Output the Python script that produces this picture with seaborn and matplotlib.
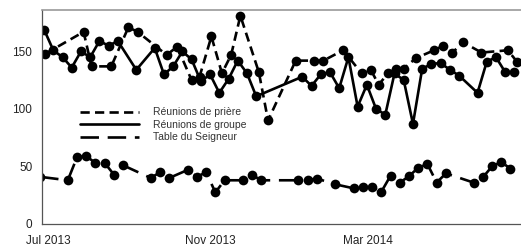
import pandas as pd
import matplotlib
matplotlib.use('Agg')
import matplotlib.pyplot as plt
import matplotlib.dates as mdates
from matplotlib.lines import Line2D
import seaborn as sns

# Réunions de prière (short dashes)
priere_dates = ['2013-06-29', '2013-07-28', '2013-08-03', '2013-08-18', '2013-08-31', '2013-09-07',
                '2013-09-29', '2013-10-07', '2013-10-18', '2013-10-24', '2013-11-02', '2013-11-10',
                '2013-11-17', '2013-11-24', '2013-12-08', '2013-12-15', '2014-01-05', '2014-01-19',
                '2014-01-26', '2014-02-10', '2014-02-24', '2014-03-03', '2014-03-09', '2014-03-16',
                '2014-03-22', '2014-03-28', '2014-04-06', '2014-04-20', '2014-04-27', '2014-05-04',
                '2014-05-12', '2014-05-26', '2014-06-15', '2014-06-22']
priere_vals = [148, 167, 137, 137, 171, 167,
               147, 154, 125, 128, 163, 131,
               147, 181, 132, 90, 142, 142,
               142, 151, 131, 134, 121, 131,
               135, 135, 144, 151, 155, 149,
               158, 149, 151, 141]

# Réunions de groupe (solid)
groupe_dates = ['2013-06-28', '2013-07-05', '2013-07-12', '2013-07-19', '2013-07-26', '2013-08-02',
                '2013-08-09', '2013-08-16', '2013-08-23', '2013-09-06', '2013-09-20', '2013-09-27',
                '2013-10-04', '2013-10-11', '2013-10-18', '2013-10-25', '2013-11-01', '2013-11-08',
                '2013-11-15', '2013-11-22', '2013-11-29', '2013-12-06', '2014-01-10', '2014-01-17',
                '2014-01-24', '2014-01-31', '2014-02-07', '2014-02-14', '2014-02-21', '2014-02-28',
                '2014-03-07', '2014-03-14', '2014-03-21', '2014-03-28', '2014-04-04', '2014-04-11',
                '2014-04-18', '2014-04-25', '2014-05-02', '2014-05-09', '2014-05-23', '2014-05-30',
                '2014-06-06', '2014-06-13', '2014-06-20']
groupe_vals = [169, 151, 145, 136, 150, 145,
               159, 155, 159, 134, 153, 130,
               137, 150, 143, 124, 130, 114,
               126, 142, 131, 111, 128, 120,
               130, 132, 118, 145, 102, 121,
               100, 95, 131, 125, 87, 135,
               139, 140, 134, 129, 114, 141,
               145, 132, 132]

# Table du Seigneur (long dashes)
table_dates = ['2013-06-25', '2013-07-16', '2013-07-23', '2013-07-30', '2013-08-06', '2013-08-13',
               '2013-08-20', '2013-08-27', '2013-09-17', '2013-09-24', '2013-10-01', '2013-10-15',
               '2013-10-22', '2013-10-29', '2013-11-05', '2013-11-12', '2013-11-26', '2013-12-03',
               '2013-12-10', '2014-01-07', '2014-01-14', '2014-01-21', '2014-02-04', '2014-02-18',
               '2014-02-25', '2014-03-04', '2014-03-11', '2014-03-18', '2014-03-25', '2014-04-01',
               '2014-04-08', '2014-04-15', '2014-04-22', '2014-04-29', '2014-05-20', '2014-05-27',
               '2014-06-03', '2014-06-10', '2014-06-17']
table_vals = [41, 38, 58, 59, 53, 53,
              43, 51, 40, 45, 40, 47,
              41, 45, 27.5, 38, 38, 42.5,
              38, 38, 38, 39.5, 34.5, 31,
              32, 32, 28, 42, 36, 41.5,
              49, 52, 36, 44, 36, 40.5,
              50, 54, 48]

labels = ['Réunions de prière', 'Réunions de groupe', 'Table du Seigneur']
styles = [(0, (3.5, 2)), '-', (0, (7, 3.3))]

sns.set_style('white')
plt.rcParams['font.family'] = ['Liberation Sans', 'DejaVu Sans']

fig = plt.figure(figsize=(5.21, 2.5), dpi=100)
ax = fig.add_axes([0.0806, 0.104, 0.9194, 0.856])

series = [(priere_dates, priere_vals), (groupe_dates, groupe_vals), (table_dates, table_vals)]
for (d, v), ls in zip(series, styles):
    sns.lineplot(x=pd.to_datetime(d), y=v, ax=ax, color='black', linestyle=ls,
                 linewidth=1.9, marker='o', markersize=7, markeredgecolor='black',
                 markeredgewidth=0)

ax.set_xlim(pd.Timestamp('2013-06-26 10:00'), pd.Timestamp('2014-06-25'))
ax.set_ylim(0, 186)
ax.set_yticks([0, 50, 100, 150])

ax.xaxis.set_major_locator(mdates.MonthLocator())
ax.xaxis.set_major_formatter(plt.FuncFormatter(
    lambda x, pos: mdates.num2date(x).strftime('%b %Y') if mdates.num2date(x).month in (3, 7, 11) else ''))

ax.tick_params(axis='both', direction='out', length=5, width=0.8, color='#555555',
               labelsize=8.5, labelcolor='#222222', pad=2)
ax.tick_params(axis='x', pad=3)
ax.set_xlabel('')
ax.set_ylabel('')

for side in ['left', 'bottom']:
    ax.spines[side].set_color('#555555')
    ax.spines[side].set_linewidth(0.9)
ax.spines['top'].set_color('#999999')
ax.spines['top'].set_linewidth(1.2)
ax.spines['right'].set_visible(False)

handles = [Line2D([], [], color='black', linestyle=ls, linewidth=1.9) for ls in styles]
ax.legend(handles, labels, loc='upper left', bbox_to_anchor=(0.07, 0.565), frameon=False,
          fontsize=7.5, labelcolor='#333333', handlelength=5.7, handletextpad=1.3,
          labelspacing=0.25, borderaxespad=0)

plt.savefig('out.png', dpi=100)
